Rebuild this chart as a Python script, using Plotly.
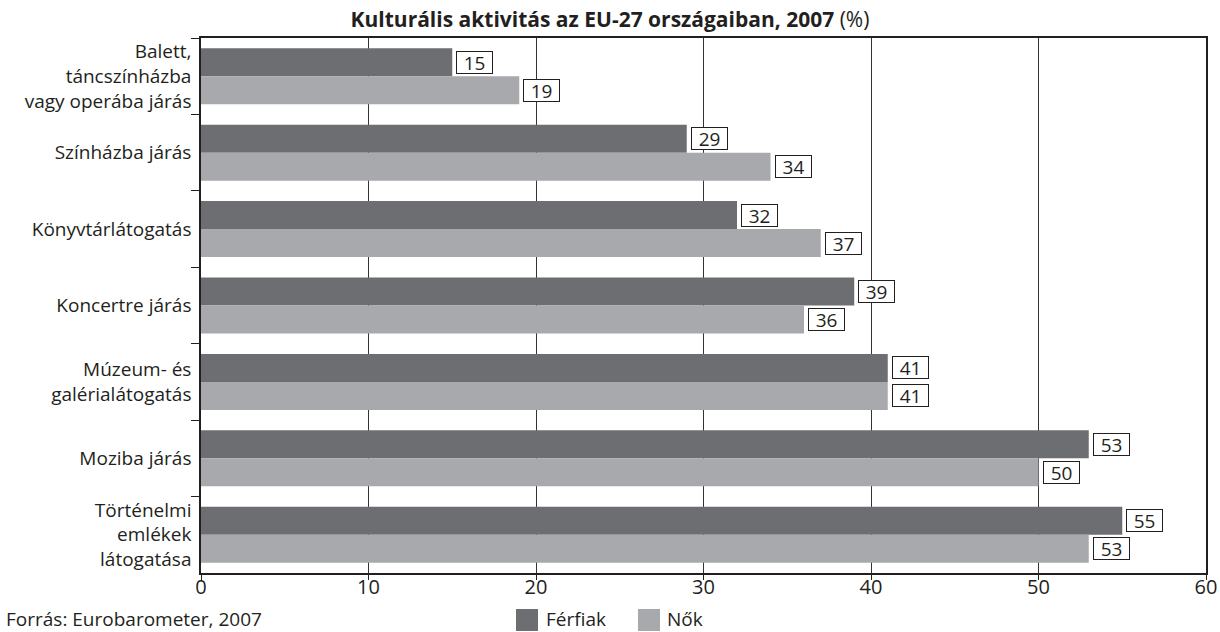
import plotly.graph_objects as go

categories = [
    "Balett,<br>táncszínházba<br>vagy operába járás",
    "Színházba járás",
    "Könyvtárlátogatás",
    "Koncertre járás",
    "Múzeum- és<br>galérialátogatás",
    "Moziba járás",
    "Történelmi<br>emlékek<br>látogatása",
]
ferfiak = [15, 29, 32, 39, 41, 53, 55]
nok = [19, 34, 37, 36, 41, 50, 53]
x_ticks = [0, 10, 20, 30, 40, 50, 60]

DARK = "#6d6e71"
LIGHT = "#a7a9ac"
TXT = "#231f20"
FONT = "Open Sans"

fig = go.Figure()
fig.add_trace(go.Bar(y=categories, x=ferfiak, orientation="h", name="Férfiak",
                     marker=dict(color=DARK, line=dict(width=0)), showlegend=False))
fig.add_trace(go.Bar(y=categories, x=nok, orientation="h", name="Nők",
                     marker=dict(color=LIGHT, line=dict(width=0)), showlegend=False))

annotations = []
for series, sh in ((ferfiak, 14), (nok, -14)):
    for cat, v in zip(categories, series):
        annotations.append(dict(x=v, y=cat, xref="x", yref="y", text=str(v), showarrow=False,
                                xanchor="left", yanchor="middle", xshift=4, yshift=sh,
                                font=dict(family=FONT, size=19, color=TXT),
                                bgcolor="white", bordercolor=TXT, borderwidth=1, borderpad=1,
                                width=33, height=19))

W, H = 1220, 632
L, R, T, B = 201, 14, 38, 59
pw, ph = W - L - R, H - T - B

def px(x):
    return (x - L) / pw

def py(y):
    return (H - B - y) / ph

annotations.append(dict(x=px(4), y=py(619), xref="paper", yref="paper", xanchor="left",
                        yanchor="middle", showarrow=False, text="Forrás: Eurobarometer, 2007",
                        font=dict(family=FONT, size=19, color=TXT)))
annotations.append(dict(x=px(544), y=py(619), xref="paper", yref="paper", xanchor="left",
                        yanchor="middle", showarrow=False, text="Férfiak",
                        font=dict(family=FONT, size=19, color=TXT)))
annotations.append(dict(x=px(665), y=py(619), xref="paper", yref="paper", xanchor="left",
                        yanchor="middle", showarrow=False, text="Nők",
                        font=dict(family=FONT, size=19, color=TXT)))

shapes = [
    dict(type="rect", xref="paper", yref="paper", x0=px(516), x1=px(538), y0=py(631), y1=py(609),
         fillcolor=DARK, line=dict(width=0)),
    dict(type="rect", xref="paper", yref="paper", x0=px(638), x1=px(660), y0=py(631), y1=py(609),
         fillcolor=LIGHT, line=dict(width=0)),
]

fig.update_layout(
    width=W, height=H,
    margin=dict(l=L, r=R, t=T, b=B, autoexpand=False),
    paper_bgcolor="white", plot_bgcolor="white",
    barmode="group", bargap=0.267, bargroupgap=0,
    font=dict(family=FONT, size=19, color=TXT),
    title=dict(text="<b>Kulturális aktivitás az EU-27 országaiban, 2007</b> (%)",
               x=0.5, xref="container", xanchor="center", y=1 - 20 / H, yanchor="middle",
               font=dict(family=FONT, size=21, color=TXT)),
    xaxis=dict(range=[0, 60], tickvals=x_ticks, ticktext=[str(t) for t in x_ticks],
               showgrid=True, gridcolor="#333333", gridwidth=1,
               showline=True, linecolor=TXT, linewidth=1.5, mirror=True,
               ticks="outside", ticklen=5, tickcolor=TXT, zeroline=False,
               ticklabelstandoff=-10,
               tickfont=dict(family=FONT, size=20, color=TXT)),
    yaxis=dict(autorange="reversed", tickson="boundaries", ticks="outside", ticklen=8,
               tickcolor=TXT, showline=True, linecolor=TXT, linewidth=1.5, mirror=True,
               showgrid=False, ticklabelstandoff=4,
               tickfont=dict(family=FONT, size=19, color=TXT)),
    annotations=annotations, shapes=shapes,
)

fig.write_html("out.html", config={"displayModeBar": False},
               post_script="document.body.style.margin='0px';")
